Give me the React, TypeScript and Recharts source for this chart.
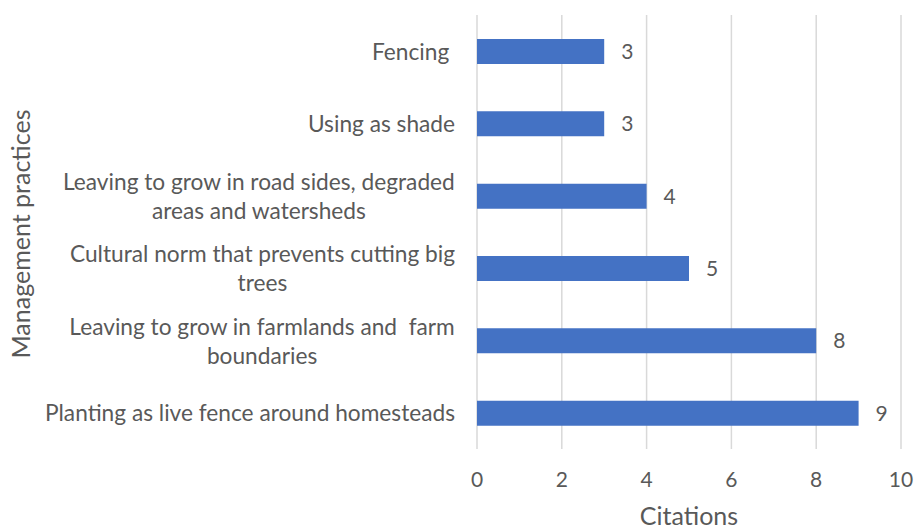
import React from "react";
import { BarChart, Bar, XAxis, YAxis, CartesianGrid, LabelList, Label } from "recharts";

if (typeof document !== "undefined") {
  document.body.style.margin = "0";
}

const categories: string[] = [
  "Fencing ",
  "Using as shade",
  "Leaving to grow in road sides, degraded\nareas and watersheds",
  "Cultural norm that prevents cutting big\ntrees",
  "Leaving to grow in farmlands and  farm\nboundaries",
  "Planting as live fence around homesteads",
];
const citations: number[] = [3, 3, 4, 5, 8, 9];
const xTicks: number[] = [0, 2, 4, 6, 8, 10];

const data = categories.map((c, i) => ({ name: c, value: citations[i] }));

const FONT = "Lato, 'Open Sans', sans-serif";
const TEXT = "#595959";
const CAT_SIZE = 22.7;

let ctx: CanvasRenderingContext2D | null = null;
function measure(s: string): number {
  if (!ctx && typeof document !== "undefined") {
    ctx = document.createElement("canvas").getContext("2d");
  }
  if (!ctx) return s.length * CAT_SIZE * 0.5;
  ctx.font = `${CAT_SIZE}px Lato`;
  return ctx.measureText(s).width;
}

const CategoryTick = (props: any) => {
  const { x, y, payload } = props;
  const lines: string[] = String(payload.value).split("\n");
  const widths = lines.map(measure);
  const maxW = Math.max(...widths);
  const cx = x - maxW / 2;
  const lh = 29;
  const startY = y - ((lines.length - 1) * lh) / 2;
  return (
    <g>
      {lines.map((ln, i) => (
        <text
          key={i}
          x={lines.length === 1 ? x : cx}
          y={startY + i * lh}
          textAnchor={lines.length === 1 ? "end" : "middle"}
          dominantBaseline="central"
          fontFamily={FONT}
          fontSize={CAT_SIZE}
          fill={TEXT}
          style={{ whiteSpace: "pre" }}
        >
          {ln}
        </text>
      ))}
    </g>
  );
};

const YTitle = (props: any) => {
  const { viewBox } = props;
  const cy = viewBox.y + viewBox.height / 2 + 2;
  const cx = 30;
  return (
    <text
      x={cx}
      y={cy}
      transform={`rotate(-90, ${cx}, ${cy})`}
      textAnchor="middle"
      fontFamily={FONT}
      fontSize={25}
      fill={TEXT}
    >
      Management practices
    </text>
  );
};

export default function App() {
  return (
    <div style={{ width: 916, height: 531, background: "#fff" }}>
      <BarChart
        width={916}
        height={531}
        data={data}
        layout="vertical"
        margin={{ top: 15, right: 15, left: 0, bottom: 0 }}
        barSize={25}
      >
        <CartesianGrid horizontal={false} vertical={true} stroke="#d9d9d9" strokeWidth={1.5} />
        <XAxis
          type="number"
          domain={[0, 10]}
          ticks={xTicks}
          axisLine={false}
          tickLine={false}
          tickSize={0}
          tickMargin={23}
          height={82}
          tick={{ fill: TEXT, fontSize: 21, fontFamily: FONT }}
          interval={0}
        >
          <Label
            value="Citations"
            position="insideBottom"
            offset={6}
            fill={TEXT}
            fontSize={25}
            fontFamily={FONT}
          />
        </XAxis>
        <YAxis
          type="category"
          dataKey="name"
          width={477}
          axisLine={false}
          tickLine={false}
          tickSize={0}
          tickMargin={22}
          interval={0}
          tick={<CategoryTick />}
        >
          <Label content={<YTitle />} />
        </YAxis>
        <Bar dataKey="value" fill="#4472C4" isAnimationActive={false}>
          <LabelList
            dataKey="value"
            position="right"
            offset={17}
            fill={TEXT}
            fontSize={21}
            fontFamily={FONT}
          />
        </Bar>
      </BarChart>
    </div>
  );
}
